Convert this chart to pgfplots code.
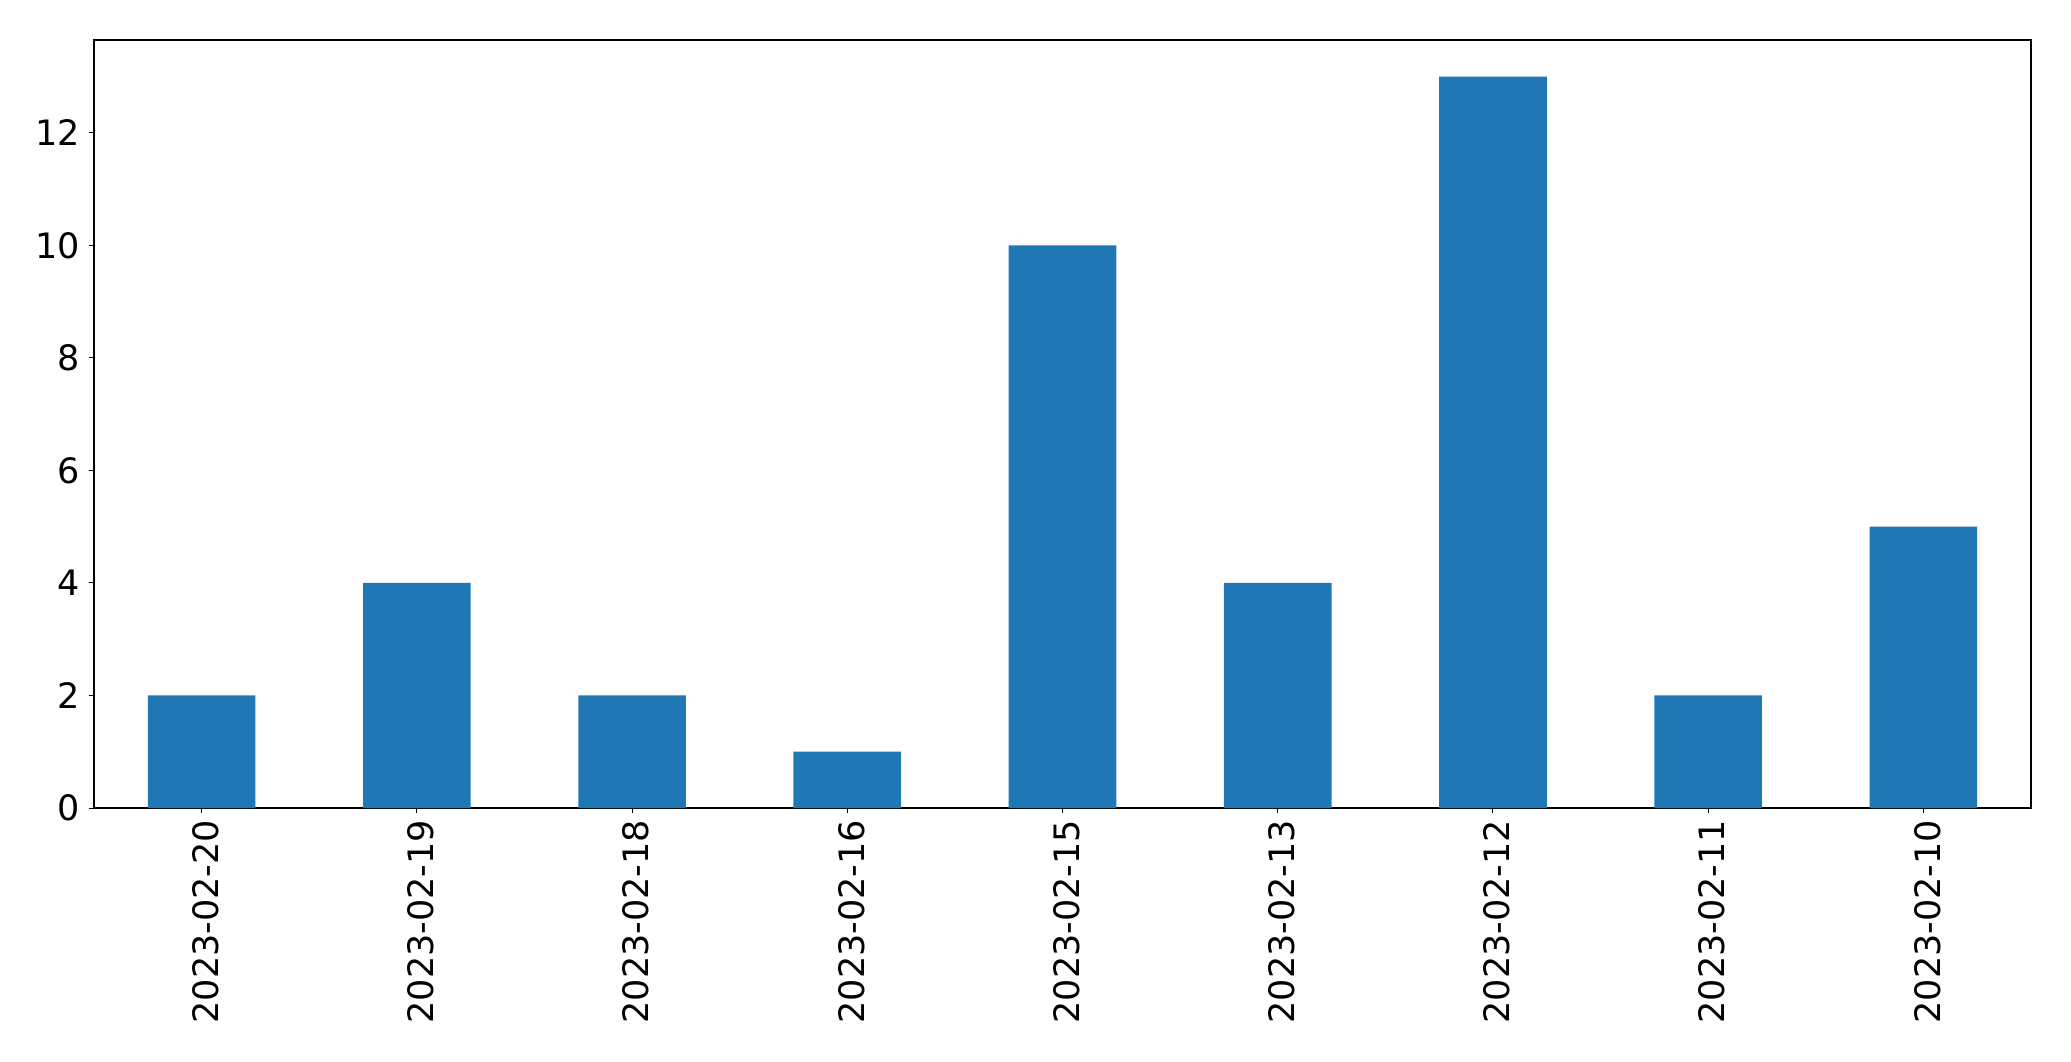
\documentclass[border=0pt]{standalone}
\usepackage{pgfplots}
\pgfplotsset{compat=1.18}
\usepackage{fontspec}
\setmainfont{DejaVu Sans}
\definecolor{mplblue}{HTML}{1F77B4}
\begin{document}
\begin{tikzpicture}
\useasboundingbox (-47pt,-126.5pt) rectangle (988.5pt,404pt);
\begin{axis}[
  at={(0,0)}, anchor=south west,
  scale only axis, width=968.5pt, height=384pt,
  xmin=-0.5, xmax=8.5, ymin=0, ymax=13.65,
  xtick=data,
  xticklabels={2023-02-20,2023-02-19,2023-02-18,2023-02-16,2023-02-15,2023-02-13,2023-02-12,2023-02-11,2023-02-10},
  ytick={0,2,4,6,8,10,12},
  x tick label style={rotate=90, anchor=east, font=\fontsize{17.5}{20}\selectfont},
  y tick label style={font=\fontsize{17.5}{20}\selectfont},
  /pgf/number format/assume math mode=true,
  tick align=outside, major tick length=2.5pt,
  tick style={black, line width=0.5pt},
  xtick pos=bottom, ytick pos=left,
  axis line style={line width=0.6pt},
  xticklabel style={yshift=-2pt},
  yticklabel style={xshift=-1pt},
]
\addplot[ybar, bar width=0.5, fill=mplblue, draw=none, bar shift=0pt] coordinates {
(0,2) (1,4) (2,2) (3,1) (4,10) (5,4) (6,13) (7,2) (8,5)
};
\end{axis}
\end{tikzpicture}
\end{document}
